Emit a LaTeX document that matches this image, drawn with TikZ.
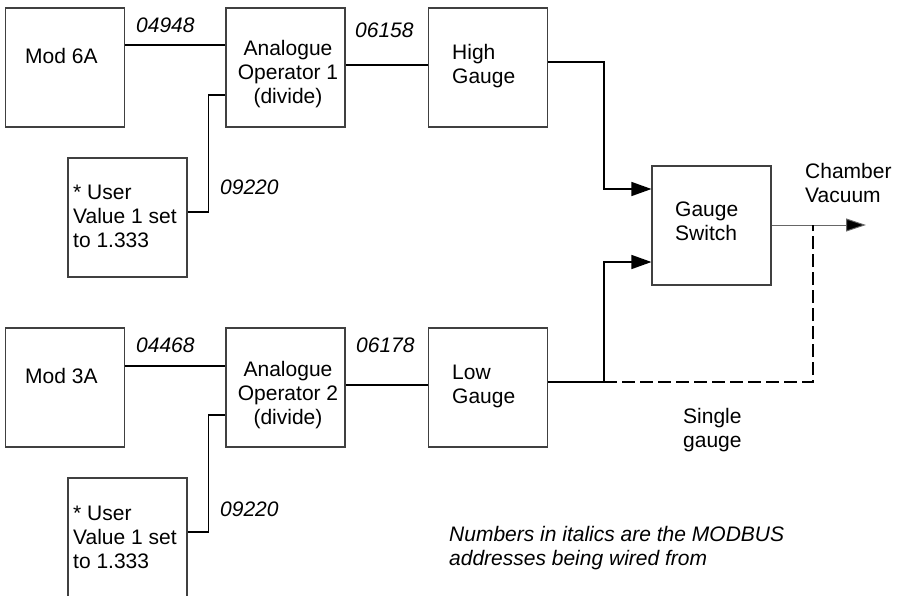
\documentclass[tikz,border=0pt]{standalone}
\usepackage{fontspec}
\setmainfont{Liberation Sans}
\usetikzlibrary{arrows.meta}
\begin{document}
\begin{tikzpicture}[x=1pt,y=-1pt,
  box/.style={draw=black!75,line width=1.1pt,minimum width=119pt,minimum height=119pt,inner sep=0pt},
  txt/.style={inner sep=0pt,font=\fontsize{21}{24}\selectfont,align=left,anchor=north west},
  ctxt/.style={inner sep=0pt,font=\fontsize{21}{24}\selectfont,align=center,anchor=north},
  num/.style={inner sep=0pt,font=\fontsize{21}{24}\selectfont\itshape,anchor=north west},
  conn/.style={line width=1.4pt,black},
  arr/.style={conn,-{Triangle[length=20pt,width=14pt]}},
  outarr/.style={line width=1pt,draw=black!60,-{Triangle[length=20pt,width=13pt,fill=black]}},
  dashline/.style={line width=1.4pt,black,dash pattern=on 13pt off 5pt}]
\useasboundingbox (0,0) rectangle (899,595);
\clip (0,0) rectangle (899,595);
% boxes
\node[box] (m6) at (65,67.5) {};
\node[box] (ao1) at (285.5,67.5) {};
\node[box] (hg) at (488,67.5) {};
\node[box] (uv1) at (127.5,217.5) {};
\node[box] (gs) at (711.5,225.5) {};
\node[box] (m3) at (65,387.5) {};
\node[box] (ao2) at (285.5,387.5) {};
\node[box] (lg) at (488,387.5) {};
\node[box] (uv2) at (127.5,537.5) {};
% box texts
\node[txt] (tm6) at (25,48) {Mod 6A};
\node[ctxt] (tao1) at (288,40) {Analogue\\Operator 1\\(divide)};
\node[txt] (thg) at (452,44) {High\\Gauge};
\node[txt] (tuv1) at (73,185) {* User\\Value 1 set\\to 1.333};
\node[txt] (tgs) at (675,202) {Gauge\\Switch};
\node[txt] (tm3) at (25,368) {Mod 3A};
\node[ctxt] (tao2) at (288,361) {Analogue\\Operator 2\\(divide)};
\node[txt] (tlg) at (452,365) {Low\\Gauge};
\node[txt] (tuv2) at (73,506) {* User\\Value 1 set\\to 1.333};
% free labels
\node[txt] (tcv) at (805,163) {Chamber\\Vacuum};
\node[txt] (tsg) at (683,408) {Single\\gauge};
\node[txt,font=\fontsize{21}{24}\selectfont\itshape] (tnote) at (449,526) {Numbers in italics are the MODBUS\\addresses being wired from};
% address labels
\node[num] (n1) at (136,18) {04948};
\node[num] (n2) at (355,23) {06158};
\node[num] (n3) at (220,180) {09220};
\node[num] (n4) at (136,338) {04468};
\node[num] (n5) at (356,338) {06178};
\node[num] (n6) at (220,502) {09220};
% helper coordinates
\coordinate (j1) at (604,382);
\coordinate (dc) at (813,225);
\coordinate (out) at (866,225);
% connectors upper
\draw[conn] (m6.east |- 0,45) -- (ao1.west |- 0,45);
\draw[conn] (uv1.east |- 0,212) -- ++(21,0) |- (ao1.west |- 0,95);
\draw[conn] (ao1.east |- 0,65) -- (hg.west |- 0,65);
\draw[arr] (hg.east |- 0,62) -- ++(56,0) |- (gs.west |- 0,189);
% connectors lower
\draw[conn] (m3.east |- 0,366) -- (ao2.west |- 0,366);
\draw[conn] (uv2.east |- 0,532) -- ++(21,0) |- (ao2.west |- 0,415);
\draw[conn] (ao2.east |- 0,385) -- (lg.west |- 0,385);
\draw[conn] (lg.east |- j1) -- (j1);
\draw[arr] (j1) |- (gs.west |- 0,262);
% output
\draw[outarr] (gs.east |- out) -- (out);
\draw[dashline] (j1) -| (dc);
\end{tikzpicture}
\end{document}
